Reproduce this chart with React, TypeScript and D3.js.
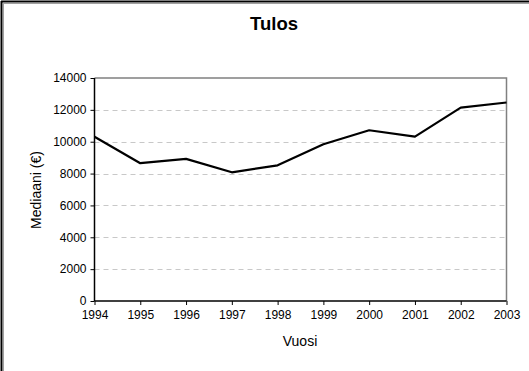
import React, { useEffect, useRef } from 'react';
import * as d3 from 'd3';

const years = ['1994', '1995', '1996', '1997', '1998', '1999', '2000', '2001', '2002', '2003'];
const median = [10310, 8650, 8920, 8080, 8520, 9840, 10720, 10320, 12140, 12460];
const yTicks = [0, 2000, 4000, 6000, 8000, 10000, 12000, 14000];

const W = 529;
const H = 371;

const drawChart = (svgEl: SVGSVGElement) => {
    const svg = d3.select(svgEl);
    svg.selectAll('*').remove();

    const plot = { left: 94.5, right: 506.5, top: 78, bottom: 301 };
    const font = '"Liberation Sans", Arial, sans-serif';

    // outer chart frame (cropped at right/bottom)
    svg.append('rect').attr('width', W).attr('height', H).attr('fill', '#fff');
    svg.append('line').attr('x1', 1.5).attr('x2', 1.5).attr('y1', 1).attr('y2', H)
        .attr('stroke', '#000').attr('stroke-width', 2);
    svg.append('line').attr('x1', 1).attr('x2', W).attr('y1', 1.5).attr('y2', 1.5)
        .attr('stroke', '#000').attr('stroke-width', 2);
    svg.append('line').attr('x1', 3.5).attr('x2', 3.5).attr('y1', 3).attr('y2', H)
        .attr('stroke', '#a0a0a0').attr('stroke-width', 1);
    svg.append('line').attr('x1', 3).attr('x2', W).attr('y1', 3.5).attr('y2', 3.5)
        .attr('stroke', '#a0a0a0').attr('stroke-width', 1);

    const x = d3.scalePoint<string>().domain(years).range([plot.left, plot.right]);
    const y = d3.scaleLinear().domain([0, 14000]).range([plot.bottom, plot.top]);

    // gridlines
    svg.append('g')
        .selectAll('line')
        .data(yTicks.filter(t => t > 0 && t < 14000))
        .enter()
        .append('line')
        .attr('x1', plot.left)
        .attr('x2', plot.right)
        .attr('y1', d => Math.round(y(d)) + 0.5)
        .attr('y2', d => Math.round(y(d)) + 0.5)
        .attr('stroke', '#c8c8c8')
        .attr('stroke-width', 1)
        .attr('stroke-dasharray', '5,4');

    // plot frame: top & right gray
    svg.append('path')
        .attr('d', `M${plot.left},${plot.top} H${plot.right} V${plot.bottom}`)
        .attr('fill', 'none')
        .attr('stroke', '#808080')
        .attr('stroke-width', 1.5);

    // axes
    const yAxis = d3.axisLeft(y).tickValues(yTicks).tickSize(4).tickPadding(4).tickFormat(d => String(d));
    const yG = svg.append('g').attr('transform', `translate(${plot.left},0)`).call(yAxis);
    const xAxis = d3.axisBottom(x).tickSize(4).tickPadding(5);
    const xG = svg.append('g').attr('transform', `translate(0,${plot.bottom})`).call(xAxis);

    [yG, xG].forEach(g => {
        g.select('.domain').attr('stroke', '#000').attr('stroke-width', 1.5);
        g.selectAll('.tick line').attr('stroke', '#000').attr('stroke-width', 1);
        g.selectAll('.tick text')
            .attr('fill', '#000')
            .style('font-family', font)
            .style('font-size', '12px');
    });
    // axis lines without outer ticks
    xG.select('.domain').attr('d', `M${plot.left},0H${plot.right}`);
    yG.select('.domain').attr('d', `M0,${plot.top}V${plot.bottom}`);

    // line
    const line = d3.line<number>()
        .x((_d, i) => x(years[i]) as number)
        .y(d => y(d));
    svg.append('path')
        .datum(median)
        .attr('d', line)
        .attr('fill', 'none')
        .attr('stroke', '#000')
        .attr('stroke-width', 2.2)
        .attr('stroke-linejoin', 'round');

    // title
    svg.append('text')
        .attr('x', 274)
        .attr('y', 30)
        .attr('text-anchor', 'middle')
        .style('font-family', font)
        .style('font-size', '18.5px')
        .style('font-weight', 'bold')
        .text('Tulos');

    // axis titles
    svg.append('text')
        .attr('x', 300)
        .attr('y', 346)
        .attr('text-anchor', 'middle')
        .style('font-family', font)
        .style('font-size', '14px')
        .text('Vuosi');

    svg.append('text')
        .attr('transform', `translate(41, 190) rotate(-90)`)
        .attr('text-anchor', 'middle')
        .style('font-family', font)
        .style('font-size', '14px')
        .text('Mediaani (€)');
};

const App: React.FC = () => {
    const ref = useRef<SVGSVGElement | null>(null);

    useEffect(() => {
        if (ref.current) drawChart(ref.current);
    }, []);

    return (
        <svg
            ref={ref}
            width={W}
            height={H}
            style={{ display: 'block', position: 'absolute', left: 0, top: 0 }}
        />
    );
};

export default App;
